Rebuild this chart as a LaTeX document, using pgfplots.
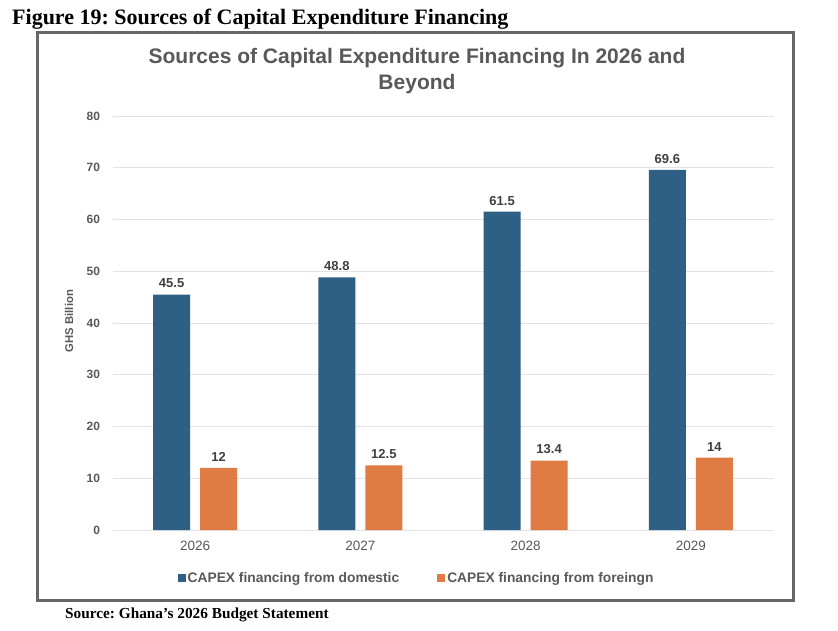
\documentclass[border=0pt]{standalone}
\usepackage{fontspec}
\setmainfont{Liberation Sans}
\newfontfamily\seriffont{Liberation Serif}
\usepackage{pgfplots}
\pgfplotsset{compat=1.18}
\definecolor{domc}{HTML}{2E5F84}
\definecolor{forc}{HTML}{E07B43}
\definecolor{txt}{HTML}{595959}
\definecolor{lab}{HTML}{404040}
\definecolor{gridc}{HTML}{E3E3E3}
\frenchspacing
\begin{document}
\begin{tikzpicture}[x=1pt,y=1pt]
\path[use as bounding box] (0,0) rectangle (838,630);
\fill[white] (0,0) rectangle (838,630);
\node[anchor=base west, font=\seriffont\bfseries\fontsize{22}{26}\selectfont, inner sep=0] at (12,605) {Figure 19: Sources of Capital Expenditure Financing};
\draw[line width=3pt, color=black!60] (37,30) rectangle (793,597);
\node[align=center, font=\bfseries\fontsize{21}{26}\selectfont, text=txt] at (417,559) {Sources of Capital Expenditure Financing In 2026 and\\Beyond};
\node[anchor=base west, font=\seriffont\bfseries\fontsize{15.3}{18}\selectfont, inner sep=0] at (65,12) {Source: Ghana’s 2026 Budget Statement};
\node[rotate=90, font=\bfseries\fontsize{11.3}{13}\selectfont, text=txt] at (69,309) {GHS Billion};
\begin{axis}[
  at={(112.5pt,100pt)}, anchor=south west,
  scale only axis, width=661pt, height=414pt,
  xmin=-0.5, xmax=3.5, ymin=0, ymax=80,
  ytick={0,10,...,80},
  xtick={0,1,2,3}, xticklabels={2026,2027,2028,2029},
  axis line style={draw=none},
  major tick length=0pt,
  ymajorgrids, grid style={gridc, line width=0.8pt},
  /pgf/number format/assume math mode=true,
  yticklabel style={font=\bfseries\fontsize{12}{14}\selectfont, text=txt, xshift=-9pt},
  xticklabel style={font=\fontsize{13.5}{15}\selectfont, text=txt, yshift=-8pt},
  ybar, bar width=37pt,
  nodes near coords,
  every node near coord/.append style={font=\bfseries\fontsize{13}{15}\selectfont, text=lab, yshift=3pt},
  legend columns=2,
  legend style={at={(0.46,-0.116)}, anchor=center, draw=none, fill=none,
    font=\bfseries\fontsize{13.8}{16}\selectfont, text=txt,
    /tikz/every even column/.append style={column sep=36pt}},
  legend image code/.code={\fill[#1] (0pt,-4pt) rectangle (8pt,4pt);},
]
\addplot[fill=domc, draw=none, bar shift=-23.5pt] coordinates {(0,45.5) (1,48.8) (2,61.5) (3,69.6)};
\addplot[fill=forc, draw=none, bar shift=23.5pt] coordinates {(0,12) (1,12.5) (2,13.4) (3,14)};
\legend{CAPEX financing from domestic, CAPEX financing from foreingn}
\end{axis}
\end{tikzpicture}
\end{document}
